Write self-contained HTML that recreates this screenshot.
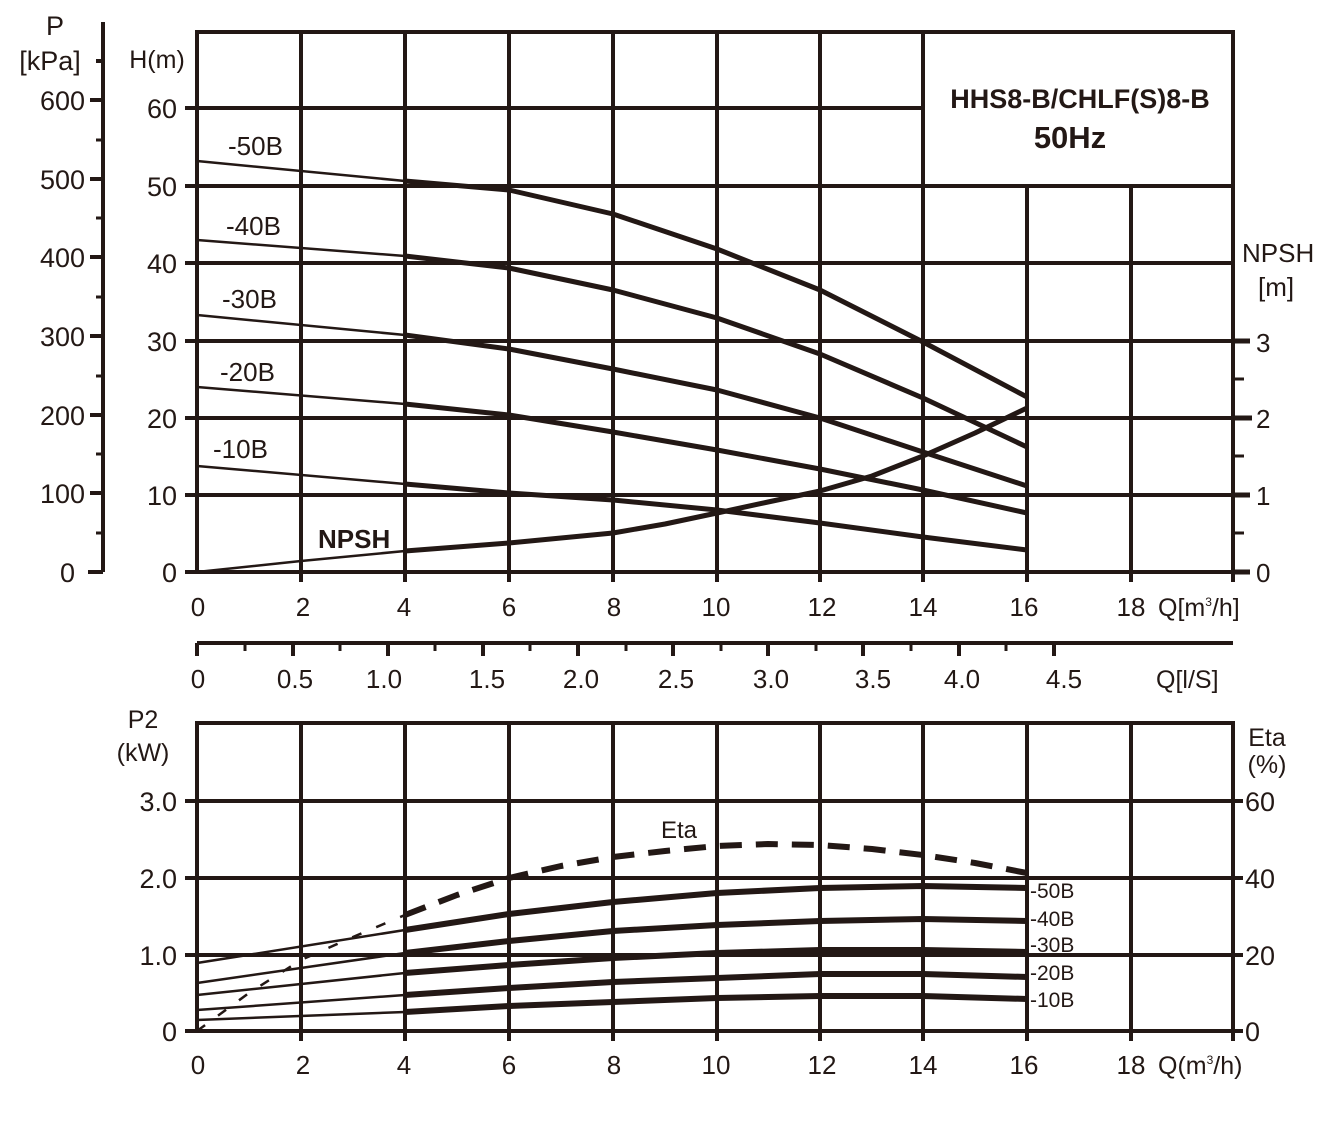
<!DOCTYPE html>
<html><head><meta charset="utf-8"><style>
body{margin:0;background:#fff}
svg{display:block}
text{font-family:"Liberation Sans",Arial,sans-serif;fill:#231815}
</style></head><body>
<svg width="1336" height="1132" viewBox="0 0 1336 1132" xmlns="http://www.w3.org/2000/svg">
<g stroke="#231815" fill="none" stroke-width="4">
<!-- top chart grid -->
<rect x="197" y="32" width="1036" height="540"/>
<g stroke-width="4">
<line x1="301" y1="32" x2="301" y2="582"/><line x1="405" y1="32" x2="405" y2="582"/>
<line x1="509" y1="32" x2="509" y2="582"/><line x1="613" y1="32" x2="613" y2="582"/>
<line x1="717" y1="32" x2="717" y2="582"/><line x1="820" y1="32" x2="820" y2="582"/>
<line x1="923" y1="32" x2="923" y2="582"/><line x1="1027" y1="186" x2="1027" y2="582"/>
<line x1="1131" y1="186" x2="1131" y2="582"/><line x1="1233" y1="32" x2="1233" y2="582"/>
<line x1="185" y1="108" x2="923" y2="108"/><line x1="185" y1="186" x2="1233" y2="186"/>
<line x1="185" y1="263" x2="1233" y2="263"/><line x1="185" y1="341" x2="1233" y2="341"/>
<line x1="185" y1="418" x2="1233" y2="418"/><line x1="185" y1="495" x2="1233" y2="495"/>
<line x1="185" y1="572" x2="1233" y2="572"/>
</g>
<!-- right NPSH ticks -->
<g stroke-width="5"><line x1="1233" y1="341" x2="1250" y2="341"/><line x1="1233" y1="418" x2="1252" y2="418"/><line x1="1233" y1="495" x2="1250" y2="495"/><line x1="1233" y1="572" x2="1250" y2="572"/></g>
<g stroke-width="3"><line x1="1233" y1="379" x2="1244" y2="379"/><line x1="1233" y1="456" x2="1244" y2="456"/><line x1="1233" y1="533" x2="1244" y2="533"/></g>
<!-- P axis -->
<line x1="103" y1="22" x2="103" y2="572" stroke-width="4"/>
<g stroke-width="4"><line x1="90" y1="100" x2="103" y2="100"/><line x1="90" y1="179" x2="103" y2="179"/><line x1="90" y1="257" x2="103" y2="257"/><line x1="90" y1="336" x2="103" y2="336"/><line x1="90" y1="415" x2="103" y2="415"/><line x1="90" y1="493" x2="103" y2="493"/><line x1="88" y1="572" x2="103" y2="572"/><line x1="96" y1="61" x2="103" y2="61"/></g>
<g stroke-width="3"><line x1="96" y1="140" x2="103" y2="140"/><line x1="96" y1="218" x2="103" y2="218"/><line x1="96" y1="297" x2="103" y2="297"/><line x1="96" y1="376" x2="103" y2="376"/><line x1="96" y1="454" x2="103" y2="454"/><line x1="96" y1="533" x2="103" y2="533"/></g>
<!-- Q l/s axis -->
<line x1="197" y1="643" x2="1233" y2="643" stroke-width="4"/>
<g stroke-width="4"><line x1="197" y1="643" x2="197" y2="656"/><line x1="293" y1="643" x2="293" y2="656"/><line x1="388" y1="643" x2="388" y2="656"/><line x1="483" y1="643" x2="483" y2="656"/><line x1="578" y1="643" x2="578" y2="656"/><line x1="673" y1="643" x2="673" y2="656"/><line x1="768" y1="643" x2="768" y2="656"/><line x1="863" y1="643" x2="863" y2="656"/><line x1="959" y1="643" x2="959" y2="656"/><line x1="1054" y1="643" x2="1054" y2="656"/></g>
<g stroke-width="3"><line x1="245" y1="643" x2="245" y2="651"/><line x1="340" y1="643" x2="340" y2="651"/><line x1="435" y1="643" x2="435" y2="651"/><line x1="530" y1="643" x2="530" y2="651"/><line x1="626" y1="643" x2="626" y2="651"/><line x1="721" y1="643" x2="721" y2="651"/><line x1="816" y1="643" x2="816" y2="651"/><line x1="911" y1="643" x2="911" y2="651"/><line x1="1006" y1="643" x2="1006" y2="651"/></g>
<!-- bottom chart grid -->
<rect x="197" y="723" width="1036" height="308"/>
<line x1="301" y1="723" x2="301" y2="1041"/><line x1="405" y1="723" x2="405" y2="1041"/>
<line x1="509" y1="723" x2="509" y2="1041"/><line x1="613" y1="723" x2="613" y2="1041"/>
<line x1="717" y1="723" x2="717" y2="1041"/><line x1="820" y1="723" x2="820" y2="1041"/>
<line x1="923" y1="723" x2="923" y2="1041"/><line x1="1027" y1="723" x2="1027" y2="1041"/>
<line x1="1131" y1="723" x2="1131" y2="1041"/><line x1="1233" y1="723" x2="1233" y2="1041"/>
<line x1="185" y1="801" x2="1243" y2="801"/><line x1="185" y1="878" x2="1243" y2="878"/>
<line x1="185" y1="955" x2="1243" y2="955"/><line x1="185" y1="1031" x2="1243" y2="1031"/>
<!-- top curves thin -->
<g stroke-width="2.5">
<line x1="197" y1="161" x2="405" y2="181"/><line x1="197" y1="240" x2="405" y2="256"/>
<line x1="197" y1="315" x2="405" y2="335"/><line x1="197" y1="387" x2="405" y2="404"/>
<line x1="197" y1="466" x2="405" y2="484"/><polyline points="197,572 301,561 405,551"/>
</g>
<g stroke-width="5" stroke-linejoin="round">
<polyline points="405,181 509,190 613,214 717,249 820,290 923,342 1027,397"/>
<polyline points="405,256 509,268 613,290 717,318 820,354 923,398 1027,447"/>
<polyline points="405,335 509,349 613,369 717,390 820,418 923,452 1027,486"/>
<polyline points="405,404 509,415 613,432 717,450 820,469 923,490 1027,513"/>
<polyline points="405,484 509,493 613,500 717,510 820,523 923,537 1027,550"/>
<polyline points="405,551 509,543 613,533 665,524 717,513 768,502 820,491 872,476 923,456 975,433 1027,408"/>
</g>
<!-- bottom curves -->
<g stroke-width="2.5">
<line x1="197" y1="963" x2="405" y2="930"/><line x1="197" y1="983" x2="405" y2="953"/>
<line x1="197" y1="995" x2="405" y2="973"/><line x1="197" y1="1010" x2="405" y2="995"/>
<line x1="197" y1="1020" x2="405" y2="1012"/>
<polyline points="197,1031 249,993 301,960 353,937 405,915" stroke-dasharray="10,16"/>
</g>
<g stroke-width="6" stroke-linejoin="round">
<polyline points="405,930 509,914 613,902 717,893 820,888 923,886 1027,888"/>
<polyline points="405,953 509,941 613,931 717,925 820,921 923,919 1027,921"/>
<polyline points="405,973 509,965 613,958 717,953 820,950 923,950 1027,952"/>
<polyline points="405,995 509,988 613,982 717,978 820,974 923,974 1027,977"/>
<polyline points="405,1012 509,1006 613,1002 717,998 820,996 923,996 1027,999"/>
<polyline points="405,915 457,895 509,878 561,866 613,857 665,851 717,846 768,844 820,845 872,849 923,855 975,863 1027,873" stroke-dasharray="22,14"/>
</g>
</g>
<!-- title box -->
<text x="1080" y="108" font-size="27" font-weight="bold" text-anchor="middle">HHS8-B/CHLF(S)8-B</text>
<text x="1070" y="148" font-size="31" font-weight="bold" text-anchor="middle">50Hz</text>
<!-- left labels -->
<g font-size="27" text-anchor="middle">
<text x="55" y="35">P</text><text x="50" y="70">[kPa]</text>
<text x="157" y="68" font-size="25">H(m)</text>
</g>
<g font-size="27" text-anchor="end">
<text x="85" y="110">600</text><text x="85" y="189">500</text><text x="85" y="267">400</text><text x="85" y="346">300</text><text x="85" y="425">200</text><text x="85" y="503">100</text><text x="75" y="582">0</text>
<text x="177" y="118">60</text><text x="177" y="196">50</text><text x="177" y="273">40</text><text x="177" y="351">30</text><text x="177" y="428">20</text><text x="177" y="505">10</text><text x="177" y="582">0</text>
</g>
<g font-size="26">
<text x="228" y="155">-50B</text><text x="226" y="235">-40B</text><text x="222" y="308">-30B</text><text x="220" y="381">-20B</text><text x="213" y="458">-10B</text>
<text x="318" y="548" font-weight="bold" font-size="26">NPSH</text>
<text x="1242" y="262">NPSH</text><text x="1258" y="296">[m]</text>
<text x="1256" y="352">3</text><text x="1256" y="428">2</text><text x="1256" y="505">1</text><text x="1256" y="582">0</text>
</g>
<g font-size="26" text-anchor="middle">
<text x="198" y="616">0</text><text x="303" y="616">2</text><text x="404" y="616">4</text><text x="509" y="616">6</text><text x="614" y="616">8</text><text x="716" y="616">10</text><text x="822" y="616">12</text><text x="923" y="616">14</text><text x="1024" y="616">16</text><text x="1131" y="616">18</text>
<text x="198" y="688">0</text><text x="295" y="688">0.5</text><text x="384" y="688">1.0</text><text x="487" y="688">1.5</text><text x="581" y="688">2.0</text><text x="676" y="688">2.5</text><text x="771" y="688">3.0</text><text x="873" y="688">3.5</text><text x="962" y="688">4.0</text><text x="1064" y="688">4.5</text>
<text x="198" y="1074">0</text><text x="303" y="1074">2</text><text x="404" y="1074">4</text><text x="509" y="1074">6</text><text x="614" y="1074">8</text><text x="716" y="1074">10</text><text x="822" y="1074">12</text><text x="923" y="1074">14</text><text x="1024" y="1074">16</text><text x="1131" y="1074">18</text>
</g>
<text x="1158" y="616" font-size="25">Q[m<tspan font-size="12" dy="-10">3</tspan><tspan dy="10">/h]</tspan></text>
<text x="1156" y="688" font-size="25">Q[l/S]</text>
<text x="1158" y="1074" font-size="25">Q(m<tspan font-size="12" dy="-10">3</tspan><tspan dy="10">/h)</tspan></text>
<!-- bottom labels -->
<g font-size="25" text-anchor="middle">
<text x="143" y="728">P2</text><text x="143" y="761">(kW)</text>
<text x="1267" y="746">Eta</text><text x="1267" y="773">(%)</text>
</g>
<g font-size="27" text-anchor="end">
<text x="177" y="811">3.0</text><text x="177" y="888">2.0</text><text x="177" y="965">1.0</text><text x="177" y="1041">0</text>
</g>
<g font-size="27">
<text x="1245" y="811">60</text><text x="1245" y="888">40</text><text x="1245" y="965">20</text><text x="1245" y="1041">0</text>
<text x="661" y="838" font-size="24">Eta</text>
</g>
<g font-size="21">
<text x="1030" y="898">-50B</text><text x="1030" y="926">-40B</text><text x="1030" y="952">-30B</text><text x="1030" y="980">-20B</text><text x="1030" y="1007">-10B</text>
</g>
</svg>
</body></html>
